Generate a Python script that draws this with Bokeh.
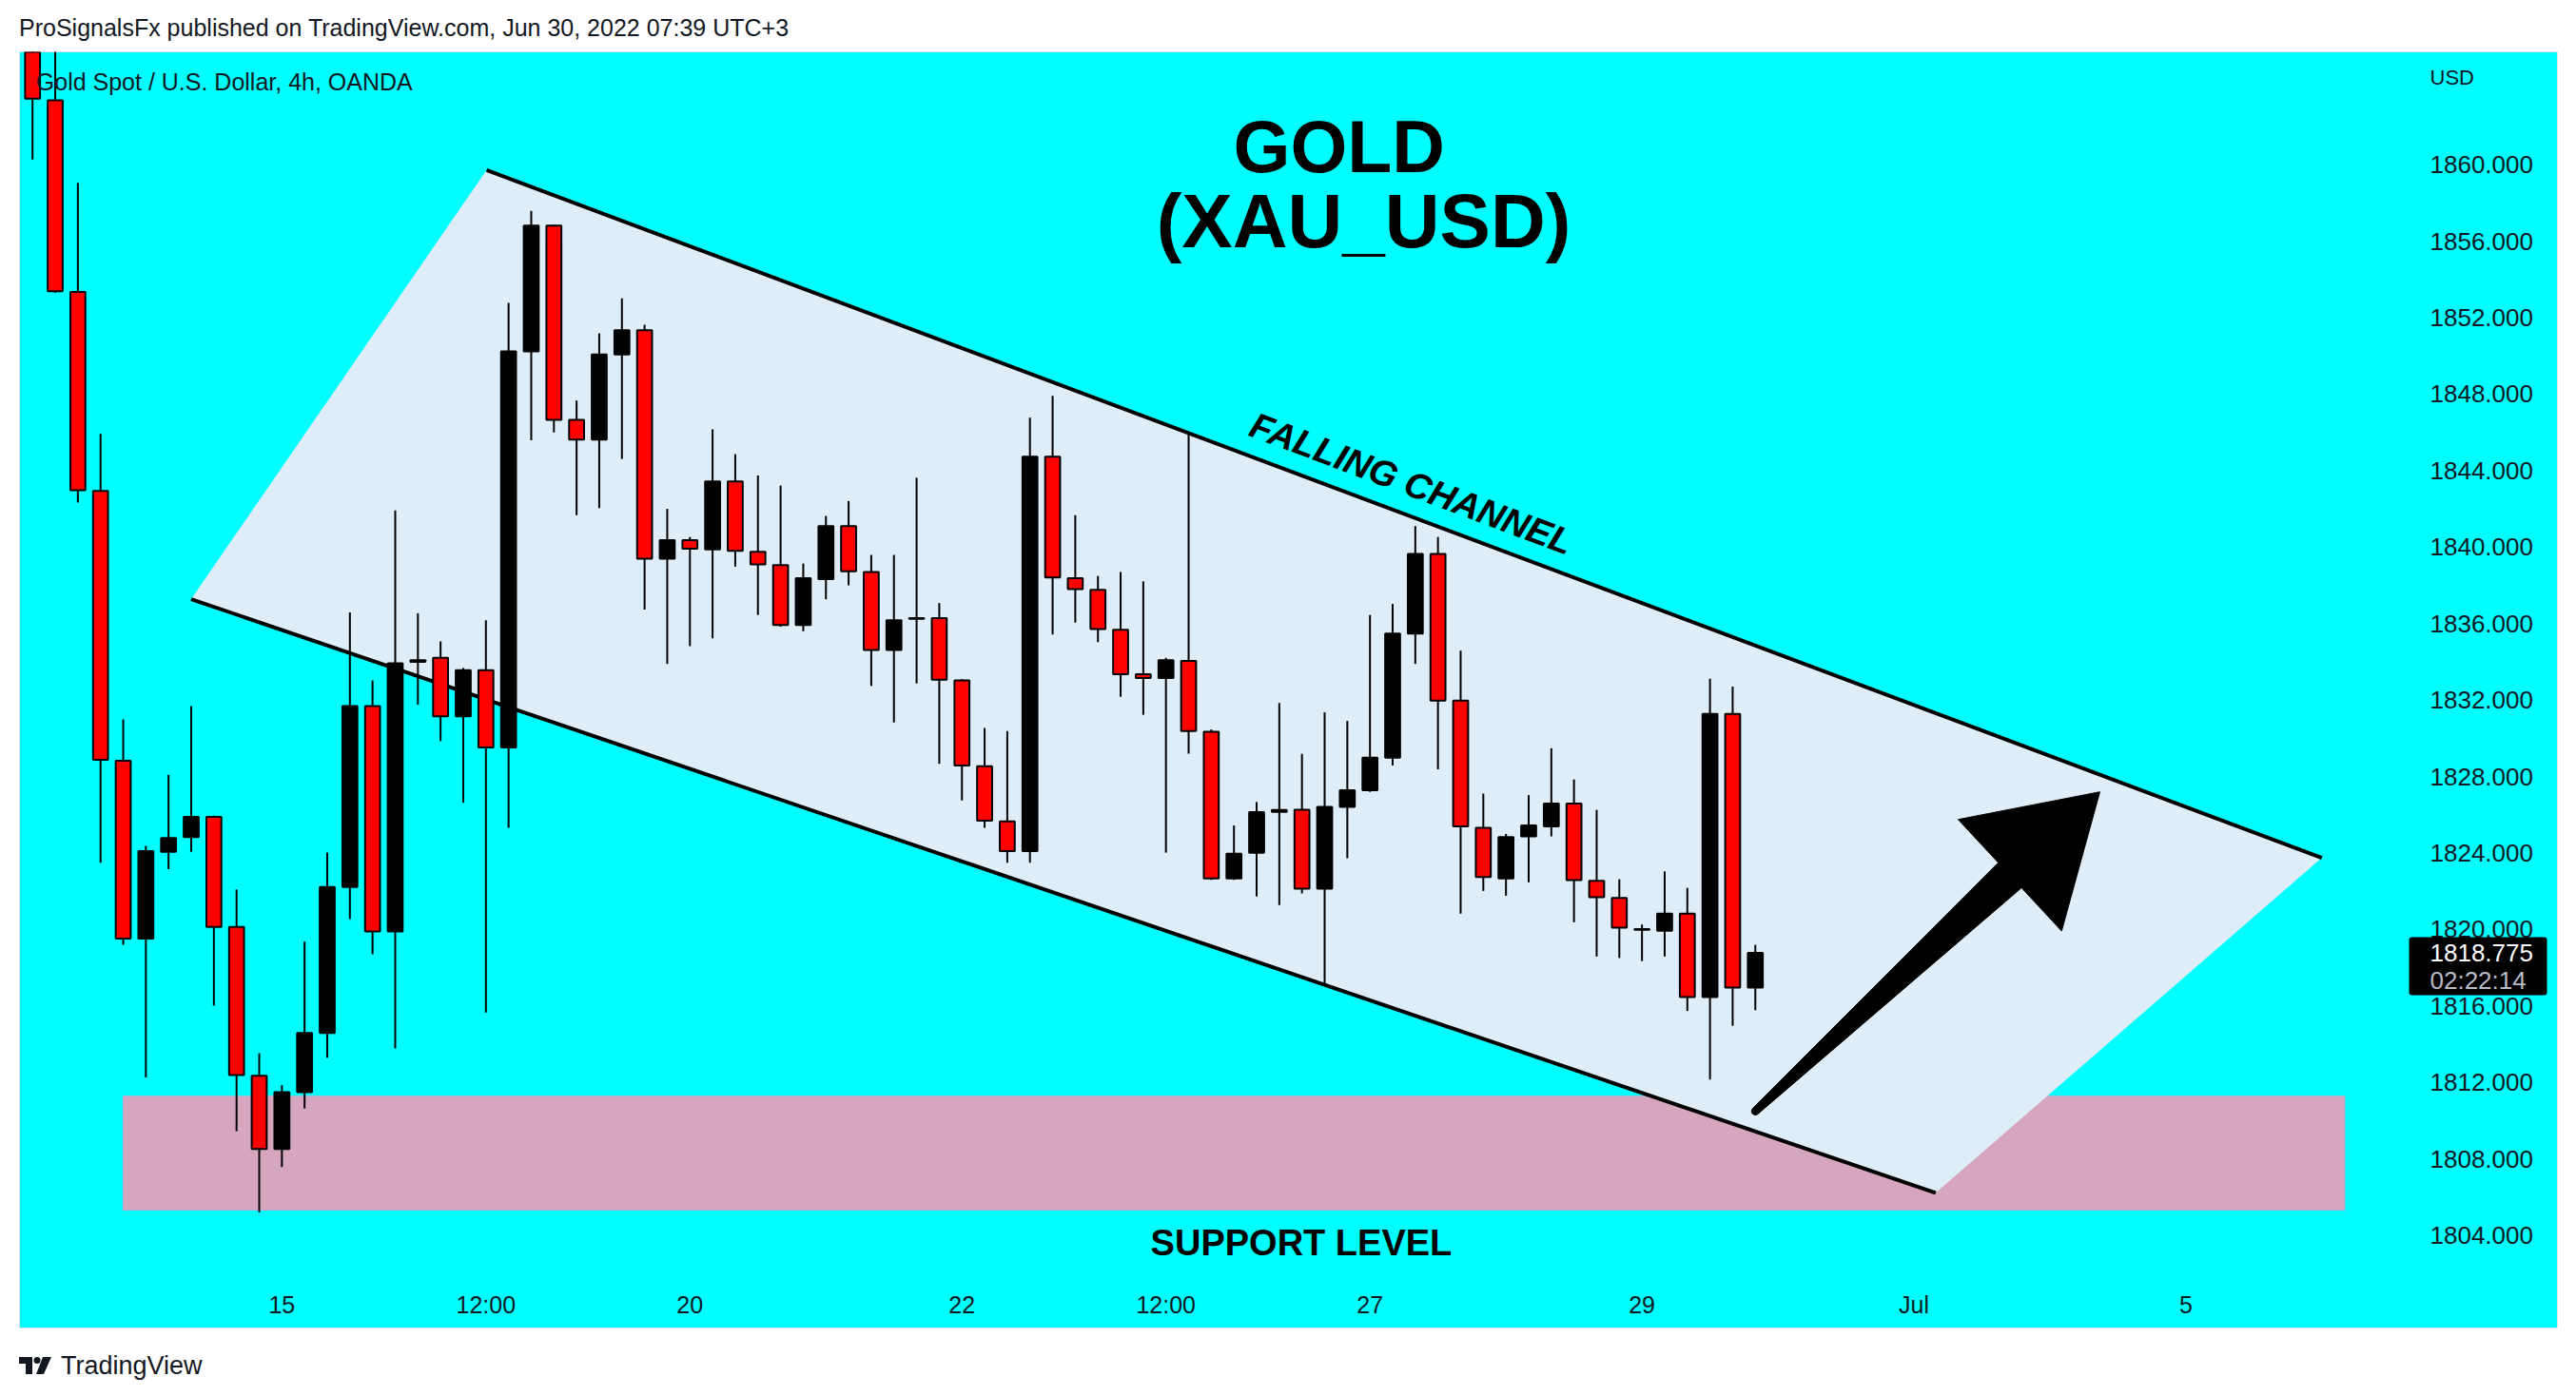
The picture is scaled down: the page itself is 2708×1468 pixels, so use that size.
import math
from bokeh.plotting import figure
from bokeh.models import (Range1d, FixedTicker, NumeralTickFormatter, Label, Div, ColumnDataSource,
                          BoxAnnotation)
from bokeh.layouts import column
from bokeh.embed import file_html
from bokeh.resources import INLINE

# ---------------- data (4h bars, XAUUSD OANDA) ----------------
bar_index = list(range(77))
opens = [1868.2, 1863.37, 1853.34, 1842.94, 1828.83, 1819.53, 1824.06, 1824.83, 1825.89, 1820.14,
         1812.35, 1808.52, 1811.49, 1814.59, 1822.22, 1831.68, 1819.90, 1834.00, 1834.21, 1831.15,
         1833.56, 1829.52, 1850.24, 1856.81, 1846.65, 1845.63, 1850.08, 1851.34, 1839.39, 1840.37,
         1839.88, 1843.43, 1839.76, 1839.06, 1835.92, 1838.33, 1841.10, 1838.70, 1834.62, 1836.25,
         1836.29, 1833.03, 1828.54, 1825.65, 1824.10, 1844.73, 1838.37, 1837.76, 1835.68, 1833.35,
         1833.15, 1834.05, 1830.34, 1822.67, 1824.02, 1826.15, 1826.26, 1822.14, 1826.42, 1827.28,
         1828.99, 1835.48, 1839.64, 1831.97, 1825.32, 1822.67, 1824.87, 1825.40, 1826.59, 1822.55,
         1821.65, 1819.98, 1819.94, 1820.83, 1816.47, 1831.28, 1816.96]
highs = [1870.0, 1867.5, 1859.05, 1845.92, 1830.99, 1824.38, 1828.09, 1831.68, 1825.95, 1822.10,
         1813.53, 1811.86, 1819.37, 1824.02, 1836.58, 1833.03, 1841.92, 1836.54, 1835.07, 1833.68,
         1836.17, 1852.77, 1857.58, 1856.85, 1847.67, 1851.18, 1853.01, 1851.63, 1842.00, 1840.53,
         1846.16, 1844.86, 1843.75, 1843.22, 1839.14, 1841.63, 1842.41, 1839.59, 1839.59, 1843.63,
         1837.07, 1833.10, 1830.54, 1830.38, 1846.77, 1847.91, 1841.67, 1838.49, 1838.70, 1838.21,
         1834.21, 1846.04, 1830.46, 1825.44, 1826.67, 1831.85, 1829.19, 1831.36, 1830.91, 1836.45,
         1837.03, 1841.10, 1840.53, 1834.58, 1827.11, 1825.00, 1827.03, 1829.48, 1827.85, 1826.26,
         1822.63, 1820.26, 1823.04, 1822.18, 1833.11, 1832.70, 1819.20]
lows = [1860.27, 1853.30, 1842.33, 1823.49, 1819.20, 1812.27, 1823.16, 1824.06, 1816.02, 1809.46,
        1805.21, 1807.58, 1810.64, 1813.29, 1820.55, 1818.71, 1813.78, 1831.76, 1829.85, 1826.63,
        1815.66, 1825.32, 1845.59, 1846.00, 1841.67, 1842.04, 1844.61, 1836.74, 1833.89, 1834.82,
        1835.23, 1838.98, 1836.45, 1835.84, 1835.60, 1837.27, 1838.00, 1832.74, 1830.83, 1832.87,
        1828.67, 1826.75, 1825.32, 1823.49, 1823.49, 1835.43, 1836.05, 1835.03, 1832.17, 1831.23,
        1824.02, 1829.20, 1822.60, 1822.60, 1821.73, 1821.28, 1821.89, 1817.08, 1823.73, 1827.20,
        1828.58, 1833.89, 1828.38, 1820.83, 1822.02, 1821.77, 1822.47, 1824.87, 1820.38, 1818.59,
        1818.51, 1818.35, 1818.59, 1815.74, 1812.15, 1814.96, 1815.78]
closes = [1863.45, 1853.38, 1842.98, 1828.87, 1819.53, 1824.10, 1824.79, 1825.89, 1820.14, 1812.39,
          1808.52, 1811.49, 1814.59, 1822.22, 1831.68, 1819.90, 1833.93, 1834.09, 1831.15, 1833.56,
          1829.52, 1850.24, 1856.81, 1846.65, 1845.63, 1850.08, 1851.34, 1839.39, 1840.37, 1839.92,
          1843.43, 1839.80, 1839.10, 1835.92, 1838.37, 1841.10, 1838.74, 1834.62, 1836.17, 1836.29,
          1833.07, 1828.58, 1825.69, 1824.10, 1844.73, 1838.41, 1837.80, 1835.72, 1833.35, 1833.15,
          1834.09, 1830.38, 1822.67, 1823.97, 1826.14, 1826.25, 1822.14, 1826.42, 1827.28, 1828.99,
          1835.48, 1839.64, 1831.97, 1825.40, 1822.75, 1824.83, 1825.44, 1826.59, 1822.59, 1821.69,
          1820.10, 1820.02, 1820.83, 1816.47, 1831.28, 1816.96, 1818.775]

date_tick_bars = [11, 20, 29, 41, 50, 59, 71, 83, 95]
date_tick_labels = ["15", "12:00", "20", "22", "12:00", "27", "29", "Jul", "5"]
price_ticks = list(range(1804, 1861, 4))

# drawings (bar index, price)
channel_x = [7.0, 20.03, 100.99, 83.96]
channel_y = [1837.28, 1859.72, 1823.75, 1806.23]
support_x = [4.0, 102.0]
support_y = [1805.33, 1811.28]
arrow_x = [76.0, 91.2]
arrow_y = [1810.5, 1827.2]
last_price = 1818.775
countdown = "02:22:14"

# ---------------- figure ----------------
FIG_W, FIG_H = 2700, 1343
LEFT, RIGHT = 20, 12
FRAME_W, FRAME_H = FIG_W - LEFT - RIGHT, FIG_H
XPX, YPX = 23.83, 20.107            # pixels per bar / per dollar
X0 = -0.575
X1 = X0 + FRAME_W / XPX
Y1 = 1865.903
Y0 = Y1 - FRAME_H / YPX

CYAN = "#00FFFF"
INK = "#131722"

p = figure(width=FIG_W, height=FIG_H, output_backend="svg", toolbar_location=None,
           x_range=Range1d(X0, X1), y_range=Range1d(Y0, Y1), y_axis_location="right",
           min_border_left=LEFT, min_border_right=RIGHT, min_border_top=0, min_border_bottom=0,
           background_fill_color=CYAN, border_fill_color="white",
           outline_line_color="#E0E3EB", outline_line_width=1)
p.margin = 0
p.grid.visible = False

for ax in (p.xaxis[0], p.yaxis[0]):
    ax.axis_line_color = None
    ax.major_tick_line_color = None
    ax.minor_tick_line_color = None
    ax.major_tick_in = 0
    ax.major_tick_out = 0
    ax.minor_tick_in = 0
    ax.minor_tick_out = 0
    ax.major_label_text_font = "Liberation Sans"
    ax.major_label_text_color = INK

# price scale drawn inside the cyan area (TradingView style)
p.yaxis.ticker = FixedTicker(ticks=price_ticks)
p.yaxis.formatter = NumeralTickFormatter(format="0.000")
p.yaxis.major_label_text_font_size = "26px"
p.yaxis.major_label_standoff = -134

p.xaxis.ticker = FixedTicker(ticks=date_tick_bars)
p.xaxis.major_label_overrides = {k: v for k, v in zip(date_tick_bars, date_tick_labels)}
p.xaxis.major_label_text_font_size = "25px"
p.xaxis.major_label_standoff = -40

# support zone
p.quad(left=[support_x[0]], right=[support_x[1]], bottom=[support_y[0]], top=[support_y[1]],
       fill_color="#D6A6BF", line_color="#C9A3D0", line_width=1)

# falling channel
p.patch(channel_x, channel_y, fill_color="#DFEDF8", line_color=None)
p.segment(x0=[channel_x[1], channel_x[0]], y0=[channel_y[1], channel_y[0]],
          x1=[channel_x[2], channel_x[3]], y1=[channel_y[2], channel_y[3]],
          line_color="black", line_width=4)

# candles
src = ColumnDataSource(dict(
    i=bar_index, o=opens, h=highs, l=lows, c=closes,
    top=[max(a, b) for a, b in zip(opens, closes)],
    bottom=[min(a, b) for a, b in zip(opens, closes)],
    color=["#FF0000" if c < o else "#000000" for o, c in zip(opens, closes)],
))
p.segment(x0="i", y0="l", x1="i", y1="h", source=src, line_color="black", line_width=2)
p.vbar(x="i", width=0.66, top="top", bottom="bottom", source=src,
       fill_color="color", line_color="black", line_width=2)

# arrow (tapered shaft + triangular head), geometry built in pixel space
tx, ty = arrow_x[0] * XPX, arrow_y[0] * YPX
hx, hy = arrow_x[1] * XPX, arrow_y[1] * YPX
L = math.hypot(hx - tx, hy - ty)
ux, uy = (hx - tx) / L, (hy - ty) / L
nx, ny = -uy, ux
HEAD_LEN, HEAD_HALF, SHAFT_HALF, TAIL_HALF = 129, 80, 18, 4
bx, by = hx - ux * HEAD_LEN, hy - uy * HEAD_LEN
pts = [(hx, hy),
       (bx + nx * HEAD_HALF, by + ny * HEAD_HALF),
       (bx + nx * SHAFT_HALF, by + ny * SHAFT_HALF),
       (tx + nx * TAIL_HALF, ty + ny * TAIL_HALF)]
for k in range(1, 8):
    a = math.pi * k / 8
    ox = nx * math.cos(a) - ux * math.sin(a)
    oy = ny * math.cos(a) - uy * math.sin(a)
    pts.append((tx + ox * TAIL_HALF, ty + oy * TAIL_HALF))
pts += [(tx - nx * TAIL_HALF, ty - ny * TAIL_HALF),
        (bx - nx * SHAFT_HALF, by - ny * SHAFT_HALF),
        (bx - nx * HEAD_HALF, by - ny * HEAD_HALF)]
p.patch([q[0] / XPX for q in pts], [q[1] / YPX for q in pts], fill_color="black",
        line_color="black", line_width=1)

# texts
def lab(**kw):
    d = dict(text_font="Liberation Sans", text_color=INK, text_baseline="middle")
    d.update(kw)
    p.add_layout(Label(**d))

lab(x=0.15, y=1864.32, text="Gold Spot / U.S. Dollar, 4h, OANDA", text_font_size="25px",
    text_align="left")
lab(x=57.64, y=1860.95, text="GOLD", text_font_size="77px", text_font_style="bold",
    text_color="black", text_align="center")
lab(x=58.72, y=1857.03, text="(XAU_USD)", text_font_size="80px", text_font_style="bold",
    text_color="black", text_align="center")
lab(x=60.83, y=1843.32, text="FALLING CHANNEL", text_font_size="38px", text_font_style="bold italic",
    text_color="black", text_align="center", angle=-0.3602)
lab(x=55.97, y=1803.6, text="SUPPORT LEVEL", text_font_size="38px", text_font_style="bold",
    text_color="black", text_align="center")

# price scale header and last-price tag
AX_X = X1 - 134 / XPX
lab(x=AX_X, y=1864.545, text="USD", text_font_size="22px", text_align="left")
p.add_layout(BoxAnnotation(left=X1 - 156 / XPX, right=X1 - 11 / XPX,
                           top=last_price + 16.6 / YPX, bottom=last_price - 44.4 / YPX,
                           fill_color="black", fill_alpha=1.0, line_color=None, border_radius=3))
lab(x=AX_X, y=last_price, text=f"{last_price:.3f}", text_font_size="26px", text_color="white",
    text_align="left")
lab(x=AX_X, y=last_price - 28.4 / YPX, text=countdown, text_font_size="26px", text_color="#B8BBC4",
    text_align="left")

header = Div(text=('<div style="font-family:\'Liberation Sans\';font-size:25px;color:#131722;'
                   'padding-left:20px;padding-top:8px;line-height:43px;white-space:nowrap;">'
                   'ProSignalsFx published on TradingView.com, Jun 30, 2022 07:39 UTC+3</div>'),
             width=FIG_W, height=54, margin=0)
logo = ('<svg width="36" height="22" viewBox="0 0 36 22" style="vertical-align:middle">'
        '<path d="M0 2h14v18h-7V9H0z" fill="#131722"/>'
        '<circle cx="19" cy="5.5" r="3.5" fill="#131722"/>'
        '<path d="M25 2h9l-8 18h-8z" fill="#131722"/></svg>')
footer = Div(text=('<div style="font-family:\'Liberation Sans\';font-size:27px;color:#131722;'
                   'padding-left:20px;padding-top:20px;white-space:nowrap;display:flex;'
                   'align-items:center;gap:8px;">' + logo + '<span>TradingView</span></div>'),
             width=FIG_W, height=63, margin=0)

layout = column(header, p, footer, margin=0, spacing=0)
open("out.html", "w").write(file_html(layout, INLINE))
